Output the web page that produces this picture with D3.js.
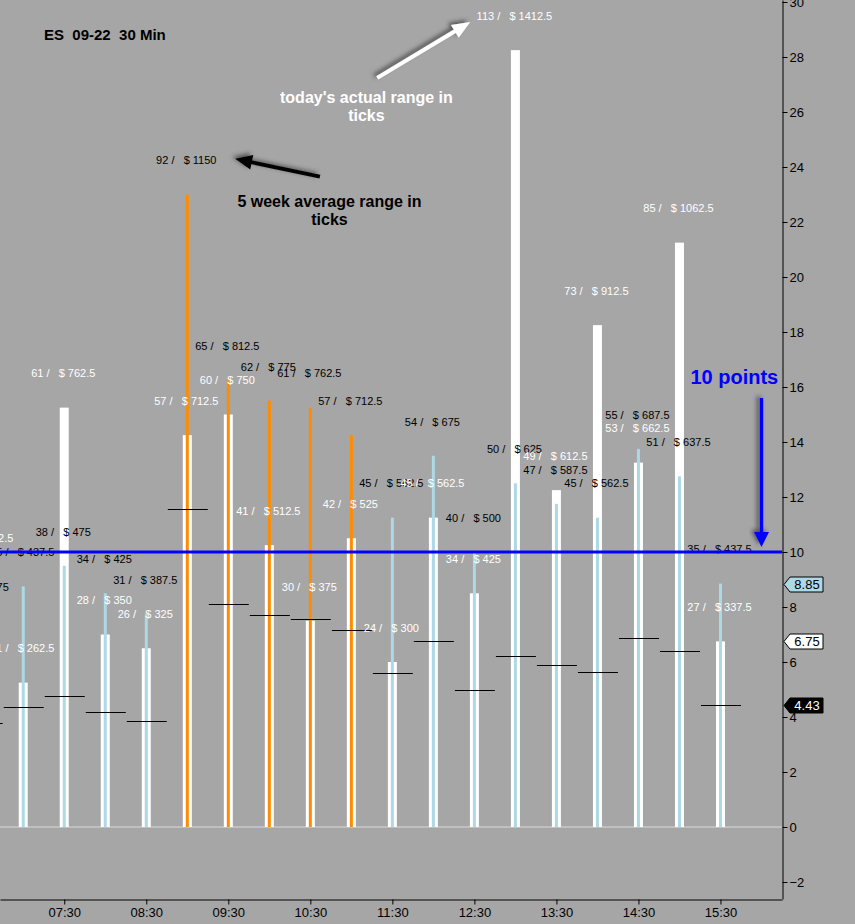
<!DOCTYPE html>
<html>
<head>
<meta charset="utf-8">
<script src="https://cdn.jsdelivr.net/npm/d3@7"></script>
<style>
  html, body { margin: 0; padding: 0; background: #a6a6a6; }
  svg { display: block; font-family: "Liberation Sans", Arial, sans-serif; }
</style>
</head>
<body>
<svg id="chart" width="855" height="924"></svg>
<script>
// ES 09-22, 30 min slots: today's range vs 5 week average range (in points)

const BG =        '#a6a6a6';
const WHITE =     '#ffffff';
const LT_BLUE =   '#add8e6';
const ORANGE =    '#ff8c00';
const BLUE =      '#0000ff';
const ZERO_LINE = '#d9d9d9';

const slots = ['06:30', '07:00', '07:30', '08:00', '08:30', '09:00', '09:30', '10:00', '10:30', '11:00',
               '11:30', '12:00', '12:30', '13:00', '13:30', '14:00', '14:30', '15:00', '15:30'];

// today's actual range (points)
const todayRange = [9.25, 5.25, 15.25, 7.0, 6.5, 14.25, 15.0, 10.25, 7.5, 10.5,
                    6.0, 11.25, 8.5, 28.25, 12.25, 18.25, 13.25, 21.25, 6.75];

// 5 week average range (points)
const avgRange = [7.5, 8.75, 9.5, 8.5, 7.75, 23.0, 16.25, 15.5, 15.25, 14.25,
                  11.25, 13.5, 10.0, 12.5, 11.75, 11.25, 13.75, 12.75, 8.85];

// short black level per slot
const levelMark = [3.8, 4.36, 4.76, 4.18, 3.85, 11.56, 8.1, 7.7, 7.56, 7.16,
                   5.6, 6.76, 4.98, 6.22, 5.89, 5.63, 6.87, 6.4, 4.43];

// slots where the average is drawn in orange
const openSlots = ['09:00', '09:30', '10:00', '10:30', '11:00'];

const yTicks = d3.range(-2, 31, 2);
const xTicks = ['07:30', '08:30', '09:30', '10:30', '11:30', '12:30', '13:30', '14:30', '15:30'];

const TICK_VALUE = 0.25;   // points per tick
const TICK_DOLLARS = 12.5; // $ per tick
const TEN_POINTS = 10;

const NB = '\u00a0';
const toMin = (s) => { const [h, m] = s.split(':').map(Number); return h * 60 + m; };
const fmtMin = (m) => `${String(Math.floor(m / 60)).padStart(2, '0')}:${String(m % 60).padStart(2, '0')}`;
const label = (v) => {
    const t = Math.round(v / TICK_VALUE);
    return `${t}${NB}/${NB}${NB}${NB}$${NB}${t * TICK_DOLLARS}`;
};

function draw_chart() {

    const width = 855;
    const height = 924;
    const plotW = 782;
    const plotH = 899;

    const x = d3.scaleLinear().domain([403, 975]).range([0, plotW]);
    const y = d3.scaleLinear().domain([-2.618, 30.073]).range([plotH, 0]);

    const data = slots.map((s, i) => ({
        slot: s,
        m: toMin(s),
        today: todayRange[i],
        avg: avgRange[i],
        level: levelMark[i],
        open: openSlots.includes(s)
    }));

    const svg = d3.select("svg#chart")
        .attr("viewBox", [0, 0, width, height])
        .style("background-color", BG);

    const defs = svg.append("defs");
    defs.append("clipPath").attr("id", "plot-clip")
        .append("rect").attr("x", 0).attr("y", 0).attr("width", plotW).attr("height", plotH);

    const shadow = defs.append("filter").attr("id", "shadow")
        .attr("x", "-30%").attr("y", "-30%").attr("width", "160%").attr("height", "160%");
    shadow.append("feDropShadow")
        .attr("dx", -3).attr("dy", -2)
        .attr("stdDeviation", 2)
        .attr("flood-color", "#3a3a3a")
        .attr("flood-opacity", 0.8);

    const plot = svg.append("g").attr("clip-path", "url(#plot-clip)");

    // zero line
    plot.append("line")
        .attr("x1", 0).attr("x2", plotW)
        .attr("y1", y(0)).attr("y2", y(0))
        .attr("stroke", ZERO_LINE)
        .attr("stroke-width", 1);

    // today's range
    plot.append("g").selectAll("rect")
        .data(data)
        .join("rect")
        .attr("x", d => x(d.m) - 4.5)
        .attr("width", 9)
        .attr("y", d => y(d.today))
        .attr("height", d => y(0) - y(d.today))
        .attr("fill", WHITE);

    // 5 week average
    plot.append("g").selectAll("rect")
        .data(data)
        .join("rect")
        .attr("x", d => x(d.m) - 1.5)
        .attr("width", 3)
        .attr("y", d => y(d.avg))
        .attr("height", d => y(0) - y(d.avg))
        .attr("fill", d => d.open ? ORANGE : LT_BLUE);

    // level marks
    plot.append("g").selectAll("line")
        .data(data)
        .join("line")
        .attr("x1", d => x(d.m) - 19.5)
        .attr("x2", d => x(d.m) + 20.5)
        .attr("y1", d => Math.round(y(d.level)) + 0.5)
        .attr("y2", d => Math.round(y(d.level)) + 0.5)
        .attr("stroke", "#000")
        .attr("stroke-width", 1);

    // value labels
    const gLabels = plot.append("g")
        .style("font-size", "11px")
        .attr("text-anchor", "middle");

    gLabels.selectAll("text.avg")
        .data(data)
        .join("text")
        .attr("class", "avg")
        .attr("x", d => x(d.m) - 1)
        .attr("y", d => y(d.avg) - 34)
        .attr("dy", "0.35em")
        .attr("fill", "#000")
        .text(d => label(d.avg));

    gLabels.selectAll("text.today")
        .data(data)
        .join("text")
        .attr("class", "today")
        .attr("x", d => x(d.m) - 1)
        .attr("y", d => y(d.today) - 34)
        .attr("dy", "0.35em")
        .attr("fill", WHITE)
        .text(d => label(d.today));

    // 10 point line
    plot.append("line")
        .attr("x1", 0).attr("x2", plotW)
        .attr("y1", y(TEN_POINTS)).attr("y2", y(TEN_POINTS))
        .attr("stroke", BLUE)
        .attr("stroke-width", 3);

    // axes
    const yAxis = svg.append("g")
        .attr("transform", `translate(${plotW + 0.5},0)`)
        .call(d3.axisRight(y).tickValues(yTicks).tickSize(5).tickSizeOuter(0).tickPadding(2));

    const xAxis = svg.append("g")
        .attr("transform", `translate(0,${plotH + 0.5})`)
        .call(d3.axisBottom(x).tickValues(xTicks.map(toMin)).tickFormat(fmtMin)
            .tickSize(5).tickSizeOuter(0).tickPadding(3));

    [yAxis, xAxis].forEach(a => {
        a.selectAll("text")
            .style("font-family", "'Liberation Sans', Arial, sans-serif")
            .style("font-size", "13px")
            .attr("fill", "#000");
        a.selectAll("line, path").attr("stroke", "#000");
    });
    yAxis.selectAll("text").attr("dy", "0.36em");

    // last value tags on the right axis
    const last = data[data.length - 1];
    const tags = [
        { v: last.avg,   fill: LT_BLUE, text: "#000" },
        { v: last.today, fill: WHITE,   text: "#000" },
        { v: last.level, fill: "#000",  text: WHITE }
    ];
    const gTag = svg.append("g").selectAll("g")
        .data(tags)
        .join("g")
        .attr("transform", d => `translate(${plotW + 1},${Math.round(y(d.v)) + 0.5})`);
    gTag.append("path")
        .attr("d", "M1,0 L7,-7.5 L40,-7.5 L40,7.5 L7,7.5 Z")
        .attr("fill", d => d.fill)
        .attr("stroke", "#000")
        .attr("stroke-width", 1);
    gTag.append("text")
        .attr("x", 24)
        .attr("dy", "0.36em")
        .attr("text-anchor", "middle")
        .style("font-size", "13px")
        .attr("fill", d => d.text)
        .text(d => d.v.toFixed(2));

    // title
    svg.append("text")
        .attr("x", 44).attr("y", 40)
        .style("font-size", "15px")
        .style("font-weight", "bold")
        .text(`ES${NB}${NB}09-22${NB}${NB}30 Min`);

    // annotations, placed in data space
    function arrow(g, from, to, color, w, headLen, headW) {
        const x1 = x(toMin(from[0])), y1 = y(from[1]);
        const x2 = x(toMin(to[0])), y2 = y(to[1]);
        const ang = Math.atan2(y2 - y1, x2 - x1);
        const bx = x2 - headLen * Math.cos(ang), by = y2 - headLen * Math.sin(ang);
        const nx = -Math.sin(ang) * headW / 2, ny = Math.cos(ang) * headW / 2;
        const a = g.append("g").attr("filter", "url(#shadow)");
        a.append("line")
            .attr("x1", x1).attr("y1", y1)
            .attr("x2", bx + Math.cos(ang) * 2).attr("y2", by + Math.sin(ang) * 2)
            .attr("stroke", color)
            .attr("stroke-width", w);
        a.append("path")
            .attr("d", `M${x2},${y2} L${bx + nx},${by + ny} L${bx - nx},${by - ny} Z`)
            .attr("fill", color);
    }

    const gAnn = svg.append("g");

    arrow(gAnn, ['11:19', 27.24], ['12:27', 29.27], WHITE, 4, 18, 15);
    arrow(gAnn, ['10:37', 23.65], ['09:35', 24.3], "#000", 4, 17, 15);
    arrow(gAnn, ['16:00', 15.6], ['16:00', 10.18], BLUE, 3.5, 15, 15);

    const note = (at, lines, color) => {
        const cx = x(toMin(at[0]));
        const t = gAnn.append("text")
            .attr("x", cx)
            .attr("y", y(at[1]))
            .attr("text-anchor", "middle")
            .style("font-size", "16px")
            .style("font-weight", "bold")
            .attr("fill", color);
        lines.forEach((l, i) => t.append("tspan")
            .attr("x", cx)
            .attr("dy", i ? "1.12em" : 0)
            .text(l));
    };

    note(['11:11', 26.33], ["today's actual range in", "ticks"], WHITE);
    note(['10:44', 22.55], ["5 week average range in", "ticks"], "#000");

    gAnn.append("text")
        .attr("x", x(toMin('15:08')))
        .attr("y", y(16.1))
        .style("font-size", "20px")
        .style("font-weight", "bold")
        .attr("fill", BLUE)
        .text("10 points");
}

draw_chart();
</script>
</body>
</html>
